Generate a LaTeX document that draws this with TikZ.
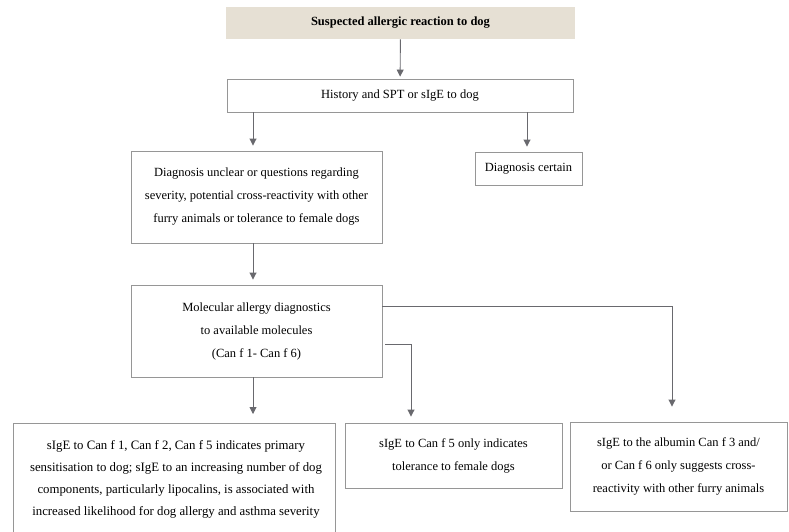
\documentclass[tikz,border=0pt]{standalone}
\usepackage{fontspec}
\setmainfont{Liberation Serif}
\usepackage{xcolor}
\usetikzlibrary{arrows.meta, math}
\definecolor{mybeige}{RGB}{230,224,212}
\definecolor{mygray}{RGB}{150,150,150}
\definecolor{myarrow}{RGB}{105,105,110}

\tikzset{
  box/.style={draw=mygray, line width=0.9pt, align=center, inner sep=0pt,
    font=\fontsize{12.5}{23}\selectfont},
  link/.style={draw=myarrow, line width=0.9pt, -{Triangle[width=7pt,length=7pt]}}
}

\begin{document}
\begin{tikzpicture}[x=1pt,y=-1pt]
\tikzmath{
\W=789;
\H=531;
}
\useasboundingbox (0,0) rectangle (\W,\H);
\clip (0,0) rectangle (\W,\H);

\node[box, draw=none, fill=mybeige, minimum width=349pt, minimum height=32pt, font=\fontsize{12.5}{22.5}\selectfont\bfseries] (susp) at (400.5,23) {Suspected allergic reaction to dog};
\node[box, minimum width=346pt, minimum height=33pt] (hist) at (400,95.5) {History and SPT or sIgE to dog};
\node[box, minimum width=251pt, minimum height=92pt] (unclear) at (256.5,197) {Diagnosis unclear or questions regarding\\severity, potential cross-reactivity with other\\furry animals or tolerance to female dogs};
\node[box, minimum width=107pt, minimum height=33pt] (certain) at (528.5,168.5) {Diagnosis certain};
\node[box, minimum width=251pt, minimum height=92pt] (mol) at (256.5,331) {Molecular allergy diagnostics\\to available molecules\\(Can f 1- Can f 6)};
\node[box, minimum width=322pt, minimum height=122pt, anchor=north] (primary) at (174,423) {};
\node[font=\fontsize{12.8}{22}\selectfont, align=center, anchor=north, inner sep=0pt] (primarytext) at (176,440) {sIgE to Can f 1, Can f 2, Can f 5 indicates primary\\sensitisation to dog; sIgE to an increasing number of dog\\components, particularly lipocalins, is associated with\\increased likelihood for dog allergy and asthma severity};
\node[box, minimum width=217pt, minimum height=65pt] (female) at (453.5,455.5) {sIgE to Can f 5 only indicates\\tolerance to female dogs};
\node[box, minimum width=217pt, minimum height=89pt] (furry) at (678.5,466.5) {sIgE to the albumin Can f 3 and/\\or Can f 6 only suggests cross-\\reactivity with other furry animals};

\draw[link, shorten >=2pt] (susp) -- (hist);
\draw[link, shorten >=5pt] ([xshift=-3.5pt]unclear.north |- hist.south) -- ([xshift=-3.5pt]unclear.north);
\draw[link, shorten >=5pt] ([xshift=-1.5pt]certain.north |- hist.south) -- ([xshift=-1.5pt]certain.north);
\draw[link, shorten >=5pt] ([xshift=-3.5pt]unclear.south) -- ([xshift=-3.5pt]mol.north);
\draw[link, shorten >=9pt] ([xshift=-3.5pt]mol.south) -- ([xshift=-3.5pt]mol.south |- primary.north);
\draw[link, shorten >=6pt] ([shift={(3,13)}]mol.east) -| ([xshift=-42.5pt]female.north);
\draw[link, shorten >=15pt] ([yshift=25pt]mol.east) -| ([xshift=-6.5pt]furry.north);
\end{tikzpicture}
\end{document}
